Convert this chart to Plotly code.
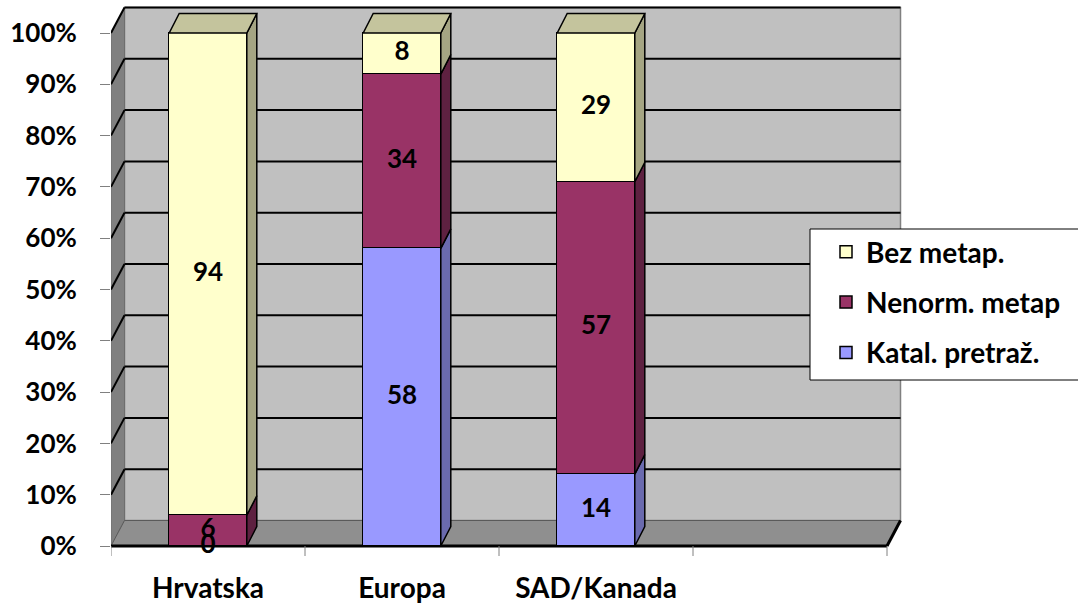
import plotly.graph_objects as go

# ---- data ----
categories = ["Hrvatska", "Europa", "SAD/Kanada"]
katal = [0, 58, 14]      # Katal. pretraž.
nenorm = [6, 34, 57]     # Nenorm. metap
bez = [94, 8, 29]        # Bez metap.
y_ticks = [0, 10, 20, 30, 40, 50, 60, 70, 80, 90, 100]
y_tick_labels = [f"{v}%" for v in y_ticks]

# name, values, front colour, side colour, legend rank (stack order bottom -> top)
series = [
    ("Katal. pretraž.", katal, "#9999FF", "#6A6AAE", 3),
    ("Nenorm. metap", nenorm, "#993366", "#5E2141", 2),
    ("Bez metap.", bez, "#FFFFCC", "#A5A583", 1),
]
top_colour = "#C4C49D"

# ---- geometry of the pseudo-3D frame ----
W, H = 1078, 603
L, R, T, B = 111, 905, 4, 556          # plot area in pixels
zero_px, full_px = 546, 33             # pixel rows of 0% and 100%
n_slots = 4                            # category slots on the axis (last one empty)
px_cat = (887 - L) / n_slots
px_pct = (zero_px - full_px) / 100.0

x_range = [-0.5, -0.5 + (R - L) / px_cat]
y_range = [-(B - zero_px) / px_pct, (zero_px - T) / px_pct]

wdx, wdy = 13.5 / px_cat, 25.5 / px_pct     # wall depth
bdx, bdy = 10.0 / px_cat, 19.5 / px_pct     # bar depth
bar_w = 0.4
x_lo, x_hi = -0.5, -0.5 + n_slots


def path(pts):
    return "M " + " L ".join(f"{x:.5f},{y:.5f}" for x, y in pts) + " Z"


def px2paper_x(px):
    return (px - L) / (R - L)


def px2paper_y(py):
    return (B - py) / (B - T)


shapes = []
# back wall
shapes.append(dict(type="rect", xref="x", yref="y", layer="below",
                   x0=x_lo + wdx, x1=x_hi + wdx, y0=wdy, y1=100 + wdy,
                   fillcolor="#C0C0C0", line=dict(color="#808080", width=1.5)))
# left wall
shapes.append(dict(type="path", xref="x", yref="y", layer="below",
                   path=path([(x_lo, 0), (x_lo, 100), (x_lo + wdx, 100 + wdy), (x_lo + wdx, wdy)]),
                   fillcolor="#808080", line=dict(color="#6E6E6E", width=1)))
# floor
shapes.append(dict(type="path", xref="x", yref="y", layer="below",
                   path=path([(x_lo, 0), (x_hi, 0), (x_hi + wdx, wdy), (x_lo + wdx, wdy)]),
                   fillcolor="#8F8F8F", line=dict(color="#5A5A5A", width=1)))
# gridlines on the back and left walls
for v in y_ticks[1:]:
    shapes.append(dict(type="line", xref="x", yref="y", layer="below",
                       x0=x_lo + wdx, x1=x_hi + wdx, y0=v + wdy, y1=v + wdy,
                       line=dict(color="black", width=2)))
    shapes.append(dict(type="line", xref="x", yref="y", layer="below",
                       x0=x_lo, x1=x_lo + wdx, y0=v, y1=v + wdy,
                       line=dict(color="black", width=2)))
# front and right edges of the floor
shapes.append(dict(type="line", xref="x", yref="y", layer="below",
                   x0=x_lo, x1=x_hi, y0=0, y1=0, line=dict(color="black", width=3)))
shapes.append(dict(type="line", xref="x", yref="y", layer="below",
                   x0=x_hi, x1=x_hi + wdx, y0=0, y1=wdy, line=dict(color="black", width=3)))
# category boundary ticks
for k in range(n_slots + 1):
    b = x_lo + k
    shapes.append(dict(type="line", xref="x", yref="y", layer="below",
                       x0=b, x1=b, y0=0, y1=-10 / px_pct,
                       line=dict(color="#808080", width=1)))

# side and top faces of the stacked bars
for i in range(len(categories)):
    base = 0
    xr = i + bar_w / 2
    xl = i - bar_w / 2
    for name, vals, front, side, rank in series:
        v = vals[i]
        if v > 0:
            shapes.append(dict(type="path", xref="x", yref="y", layer="above",
                               path=path([(xr, base), (xr + bdx, base + bdy),
                                          (xr + bdx, base + v + bdy), (xr, base + v)]),
                               fillcolor=side, line=dict(color="black", width=1.5)))
        base += v
    shapes.append(dict(type="path", xref="x", yref="y", layer="above",
                       path=path([(xl, base), (xl + bdx, base + bdy),
                                  (xr + bdx, base + bdy), (xr, base)]),
                       fillcolor=top_colour, line=dict(color="black", width=1.5)))

# legend box
shapes.append(dict(type="rect", xref="paper", yref="paper", layer="above",
                   x0=px2paper_x(810), x1=px2paper_x(1090),
                   y0=px2paper_y(380), y1=px2paper_y(229),
                   fillcolor="white", line=dict(color="black", width=1)))

FONT = "Lato"
fig = go.Figure()
xs = list(range(len(categories)))
for name, vals, front, side, rank in series:
    fig.add_trace(go.Bar(
        x=xs, y=vals, name=name, width=bar_w, legendgroup=name, legendrank=rank,
        marker=dict(color=front, line=dict(color="black", width=1.5)),
        hoverinfo="skip",
    ))

# value labels centred in each segment
label_x, label_y, label_t = [], [], []
for i in range(len(categories)):
    base = 0
    for name, vals, front, side, rank in series:
        v = vals[i]
        label_x.append(i)
        label_y.append(base + v / 2)
        label_t.append(str(v))
        base += v
fig.add_trace(go.Scatter(
    x=label_x, y=label_y, text=label_t, mode="text", showlegend=False,
    textfont=dict(family=FONT, size=26, weight="bold", color="black"),
    cliponaxis=False, hoverinfo="skip",
))

fig.update_layout(
    width=W, height=H,
    margin=dict(l=L, r=W - R, t=T, b=H - B, autoexpand=False),
    paper_bgcolor="white", plot_bgcolor="white",
    barmode="stack", bargap=0,
    font=dict(family=FONT, size=26, weight="bold", color="black"),
    shapes=shapes,
    showlegend=True,
    legend=dict(
        x=px2paper_x(826), y=px2paper_y(227), xanchor="left", yanchor="top",
        bgcolor="rgba(0,0,0,0)", borderwidth=0,
        traceorder="grouped", tracegroupgap=11,
        font=dict(family=FONT, size=28, weight="bold", color="black"),
    ),
    xaxis=dict(
        range=x_range, showgrid=False, zeroline=False, showline=False,
        tickmode="array", tickvals=xs, ticktext=categories, ticks="",
        ticklabelstandoff=13, fixedrange=True,
        tickfont=dict(family=FONT, size=28, weight="bold", color="black"),
    ),
    yaxis=dict(
        range=y_range, showgrid=False, zeroline=False, showline=False,
        tickmode="array", tickvals=y_ticks, ticktext=y_tick_labels,
        ticks="outside", ticklen=10, tickcolor="#808080", tickwidth=1,
        ticklabelstandoff=18, fixedrange=True,
    ),
)

fig.write_html("out.html")
